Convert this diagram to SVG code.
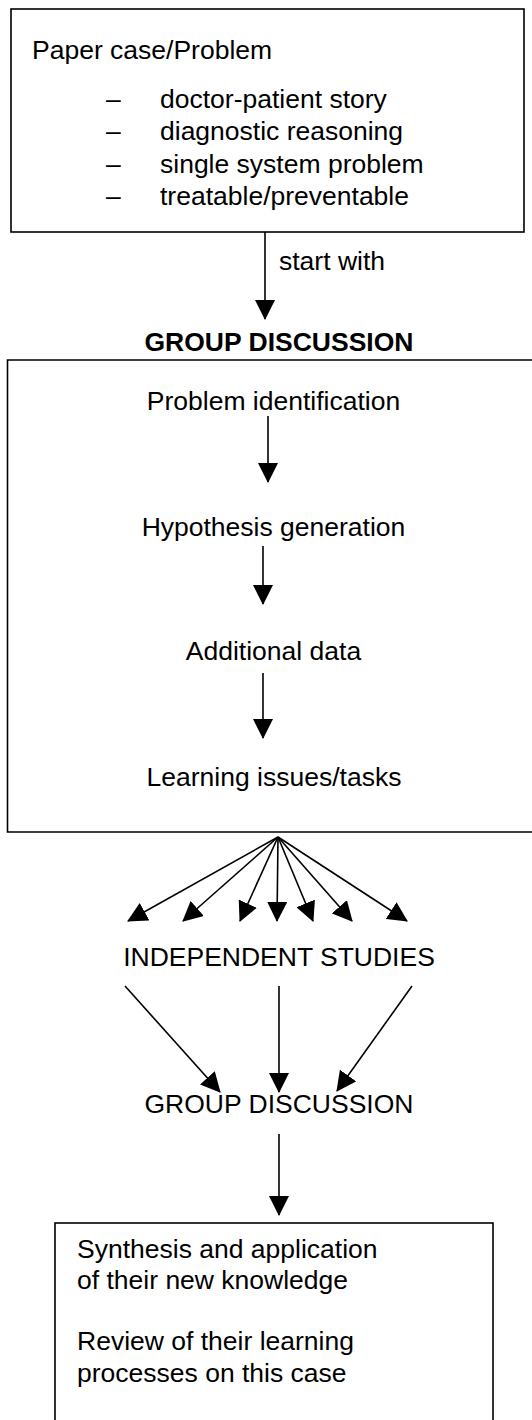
<svg xmlns="http://www.w3.org/2000/svg" width="532" height="1420" viewBox="0 0 532 1420">
  <style>
    text { font-family: "Liberation Sans", Arial, sans-serif; font-size: 26.5px; fill: #000; }
    .c { text-anchor: middle; }
    .b { font-weight: bold; }
    .box { fill: none; stroke: #000; stroke-width: 1.6; }
    .link { fill: none; stroke: #000; stroke-width: 1.6; marker-end: url(#head); }
  </style>
  <defs>
    <marker id="head" markerUnits="userSpaceOnUse" markerWidth="21" markerHeight="20" refX="19" refY="10" orient="auto" viewBox="0 0 21 20">
      <path d="M0,0 L20,10 L0,20 z" fill="#000"/>
    </marker>
  </defs>
  <rect width="532" height="1420" fill="#fff"/>

  <!-- case description -->
  <g id="paper-case">
    <rect class="box" x="11" y="9" width="513" height="223"/>
    <text x="32" y="59">Paper case/Problem</text>
    <text x="106" y="108">–</text><text x="160" y="108">doctor-patient story</text>
    <text x="106" y="140">–</text><text x="160" y="140">diagnostic reasoning</text>
    <text x="106" y="173">–</text><text x="160" y="173">single system problem</text>
    <text x="106" y="205">–</text><text x="160" y="205">treatable/preventable</text>
  </g>

  <g id="start-label">
    <text x="279" y="270">start with</text>
  </g>

  <!-- first group discussion -->
  <g id="group-discussion-1">
    <text class="c b" x="279" y="351">GROUP DISCUSSION</text>
    <path class="box" d="M533,360 H7.5 V832 H533"/>
    <text class="c" x="273.5" y="410">Problem identification</text>
    <text class="c" x="273.5" y="536">Hypothesis generation</text>
    <text class="c" x="273.5" y="660">Additional data</text>
    <text class="c" x="274" y="786">Learning issues/tasks</text>
  </g>

  <g id="independent-studies">
    <text class="c" x="279" y="966">INDEPENDENT STUDIES</text>
  </g>

  <g id="group-discussion-2">
    <text class="c" x="279" y="1113">GROUP DISCUSSION</text>
  </g>

  <!-- outcome box -->
  <g id="synthesis">
    <rect class="box" x="55" y="1223" width="438" height="220"/>
    <text x="77" y="1258">Synthesis and application</text>
    <text x="77" y="1289">of their new knowledge</text>
    <text x="77" y="1350">Review of their learning</text>
    <text x="77" y="1382">processes on this case</text>
  </g>

  <!-- connectors -->
  <g id="connectors">
    <line class="link" x1="265" y1="232" x2="265" y2="319"/>
    <line class="link" x1="268" y1="416" x2="268" y2="482"/>
    <line class="link" x1="263" y1="546" x2="263" y2="604"/>
    <line class="link" x1="263" y1="673" x2="263" y2="738"/>

    <line class="link" x1="278" y1="837" x2="128" y2="921"/>
    <line class="link" x1="278" y1="837" x2="183" y2="921"/>
    <line class="link" x1="278" y1="837" x2="240" y2="921"/>
    <line class="link" x1="278" y1="837" x2="277" y2="921"/>
    <line class="link" x1="278" y1="837" x2="313" y2="921"/>
    <line class="link" x1="278" y1="837" x2="352" y2="921"/>
    <line class="link" x1="278" y1="837" x2="407" y2="921"/>

    <line class="link" x1="125" y1="986" x2="220" y2="1092"/>
    <line class="link" x1="279" y1="986" x2="279" y2="1092"/>
    <line class="link" x1="412" y1="986" x2="337" y2="1091"/>

    <line class="link" x1="279" y1="1134" x2="279" y2="1215"/>
  </g>
</svg>
